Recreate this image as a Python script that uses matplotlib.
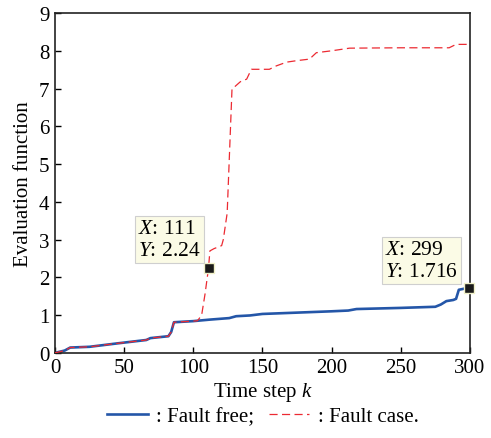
import numpy as np
import matplotlib
matplotlib.use("Agg")
import matplotlib.pyplot as plt

plt.rcParams['font.family'] = ['Liberation Serif', 'DejaVu Serif']
plt.rcParams['mathtext.fontset'] = 'custom'
plt.rcParams['mathtext.rm'] = 'Liberation Serif'
plt.rcParams['mathtext.it'] = 'Liberation Serif:italic'

# fault free curve (time step, value)
freeK = [0, 7, 11, 25, 45, 66, 69, 82, 84, 86, 100, 112, 126, 131, 141, 150,
         200, 212, 218, 250, 275, 279, 283, 288, 290, 292, 296, 299]
freeV = [0, 0.06, 0.14, 0.16, 0.25, 0.34, 0.39, 0.44, 0.55, 0.81, 0.84, 0.88,
         0.92, 0.97, 0.99, 1.03, 1.1, 1.12, 1.16, 1.19, 1.22, 1.28, 1.37, 1.40,
         1.43, 1.67, 1.70, 1.716]

# fault case curve
faultK = [0, 7, 11, 25, 45, 66, 69, 82, 84, 86, 100, 103, 106, 108.5, 111, 112,
          115, 120.5, 121.7, 124.5, 128, 130, 134, 138.6, 142, 155, 160, 167.5,
          175, 184, 189, 200, 213, 250, 285, 290, 300]
faultV = [0, 0.06, 0.14, 0.16, 0.25, 0.34, 0.39, 0.44, 0.55, 0.81, 0.84, 0.85,
          0.99, 1.56, 2.24, 2.7, 2.76, 2.84, 3.0, 3.7, 7.0, 7.05, 7.18, 7.25,
          7.51, 7.51, 7.6, 7.7, 7.74, 7.78, 7.95, 8.0, 8.07, 8.08, 8.08, 8.17, 8.17]

tipX = [111, 299]
tipY = [2.24, 1.716]
tipBox = [(60, 2.45), (238.5, 1.9)]

fig = plt.figure(figsize=(4.91, 4.39), dpi=100)
ax = fig.add_axes([0.112, 0.194, 0.845, 0.774])

blue = '#2456a8'
red = '#ec2a32'
ax.plot(freeK, freeV, color=blue, lw=1.9, label=': Fault free;', zorder=2)
ax.plot(faultK, faultV, color=red, lw=0.9, dashes=(6.5, 3.5), label=': Fault case.', zorder=3)

for i in range(len(tipX)):
    ax.plot(tipX[i], tipY[i], marker='s', ms=7.5, color='#1a1a1a',
            markeredgecolor='#f0f0c8', markeredgewidth=1, zorder=5, clip_on=False)
    ax.text(tipBox[i][0], tipBox[i][1], '$X$: %s\n$Y$: %s' % (tipX[i], tipY[i]),
            fontsize=15.5, ha='left', va='bottom', linespacing=1.25, zorder=6,
            bbox=dict(boxstyle='square,pad=0.14', facecolor='#fbfbe6',
                      edgecolor='#cfcfcf', lw=0.8))

ax.set_xlim(0, 300)
ax.set_ylim(0, 9)
ax.set_xticks(np.arange(0, 301, 50))
ax.set_yticks(np.arange(0, 10, 1))
ax.tick_params(direction='in', labelsize=15, length=4, width=1, pad=4,
               top=False, right=False)
for s in ax.spines.values():
    s.set_linewidth(1.2)
    s.set_color('#222222')

ax.set_xlabel('Time step $k$', fontsize=15, labelpad=2)
ax.set_ylabel('Evaluation function', fontsize=15, labelpad=4)

fig.legend(loc='lower center', bbox_to_anchor=(0.535, -0.015), ncol=2, frameon=False,
           fontsize=15, handlelength=1.95, handletextpad=0.4, columnspacing=0.7)

fig.savefig('out.png', dpi=100)
